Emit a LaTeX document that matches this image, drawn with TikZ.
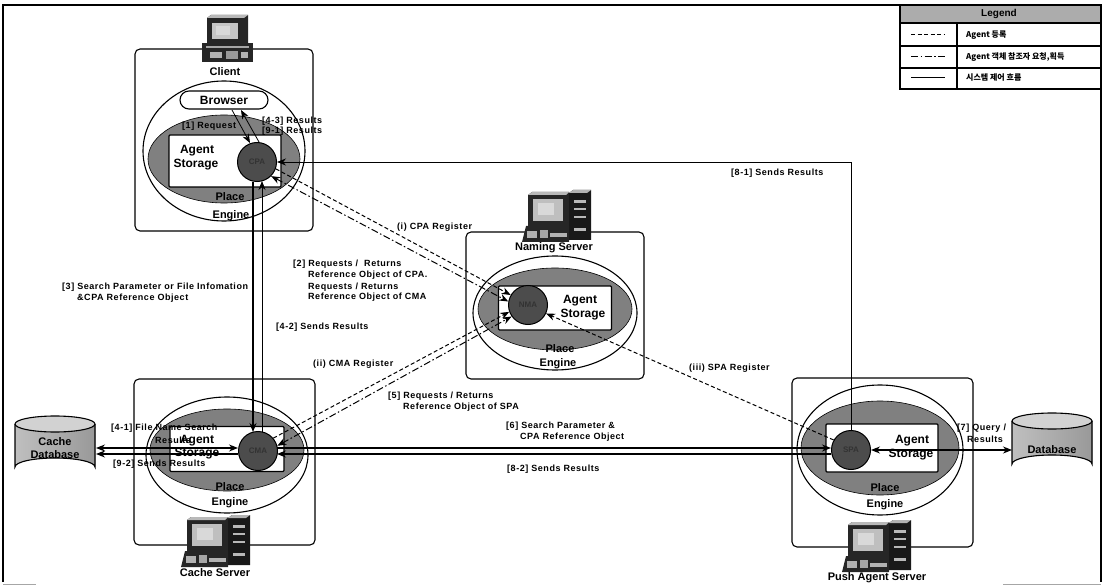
\documentclass[tikz,border=0pt]{standalone}
\usepackage{fontspec}
\setmainfont{Liberation Sans}
\newfontfamily\lblfont{Liberation Sans}[LetterSpace=6]
\newfontfamily\krfont{Noto Sans CJK KR}
\usetikzlibrary{arrows.meta}
\definecolor{placegray}{gray}{0.5}
\definecolor{agentgray}{gray}{0.3}
\tikzset{
  x=1pt,y=-1pt,
  box/.style={draw,line width=1.1pt,rounded corners=5pt,fill=white},
  engine/.style={draw,line width=1.1pt,fill=white},
  placeell/.style={draw,line width=0.6pt,fill=placegray},
  storagebox/.style={draw,line width=1.2pt,fill=white},
  agentnode/.style={circle,draw,line width=1pt,fill=agentgray,minimum size=39pt,inner sep=0pt,font=\bfseries\fontsize{8}{9}\selectfont,text=black!80},
  big/.style={font=\bfseries\fontsize{12}{14}\selectfont,inner sep=0pt},
  mid/.style={font=\bfseries\fontsize{11}{13}\selectfont,inner sep=0pt},
  lbl/.style={font=\lblfont\bfseries\fontsize{9}{10}\selectfont,inner sep=0pt,anchor=west},
  ctl/.style={line width=1.2pt},
  thinctl/.style={line width=0.8pt},
  arr/.style={-{Stealth[length=9pt,width=7pt]}},
  arrb/.style={{Stealth[length=9pt,width=7pt]}-{Stealth[length=9pt,width=7pt]}},
  reg/.style={line width=1pt,dash pattern=on 4pt off 2.5pt},
  ref/.style={line width=1pt,dash pattern=on 7pt off 2.5pt on 1.5pt off 2.5pt},
  deskpc/.pic={
    \fill[black!85] (5,0) -- (9,-3) -- (46,-3) -- (46,25) -- (5,25) -- cycle;
    \fill[gray!55] (9,-3) -- (46,-3) -- (42,0) -- (5,0) -- cycle;
    \fill[gray!45] (10,5) rectangle (36,21);
    \fill[white!85!black] (14,8) rectangle (28,17);
    \fill[black!85] (0,25) rectangle (51,44);
    \fill[gray!70] (4,28) rectangle (47,30);
    \fill[gray!60] (8,34) rectangle (20,40);
    \fill[gray!80] (24,33) rectangle (36,41);
    \fill[gray!60] (39,34) rectangle (46,40);
  },
  towerpc/.pic={
    \fill[black!85] (6,5) -- (10,2) -- (47,2) -- (47,36) -- (6,36) -- cycle;
    \fill[gray!55] (10,2) -- (47,2) -- (44,5) -- (6,5) -- cycle;
    \fill[gray!50] (11,9) rectangle (41,31);
    \fill[white!85!black] (16,13) rectangle (32,25);
    \fill[black!90] (47,3) -- (51,0) -- (69,0) -- (69,50) -- (47,50) -- cycle;
    \fill[gray!60] (51,0) -- (69,0) -- (65,3) -- (47,3) -- cycle;
    \fill[gray!55] (52,10) rectangle (64,13);
    \fill[gray!55] (52,18) rectangle (64,20);
    \fill[gray!55] (52,26) rectangle (64,28);
    \fill[gray!55] (52,38) rectangle (64,41);
    \fill[black!85] (4,36) -- (47,36) -- (47,52) -- (0,52) -- cycle;
    \fill[gray!60] (5,41) rectangle (15,48);
    \fill[gray!70] (18,40) rectangle (26,48);
    \fill[gray!60] (28,43) rectangle (45,47);
  },
  dbcyl/.pic={
    \fill[left color=gray!50,right color=gray!80] (0,8) -- (0,51) arc[start angle=180,end angle=360,x radius=40,y radius=9] -- (80,8) -- cycle;
    \fill[gray!35] (40,8) ellipse[x radius=40,y radius=8];
    \draw[line width=1.1pt] (0,8) -- (0,51) arc[start angle=180,end angle=360,x radius=40,y radius=9] -- (80,8);
    \draw[line width=1.1pt] (40,8) ellipse[x radius=40,y radius=8];
  }
}
\begin{document}
\begin{tikzpicture}
\useasboundingbox (0,0) rectangle (1103,588);
% outer frame
\draw[line width=1.1pt] (3,582) -- (3,5) -- (1101,5) -- (1101,582);
\draw[gray!70,line width=0.5pt] (3,584) -- (36,584);
\draw[gray!70,line width=0.5pt] (1003,584) -- (1101,584);
% legend
\path[fill=gray!65] (900,5) rectangle (1101,23);
\draw[line width=1.2pt] (900,5) rectangle (1101,89);
\draw[line width=1.1pt] (900,23) -- (1101,23) (900,46) -- (1101,46) (900,68) -- (1101,68) (957,23) -- (957,89);
\node[font=\bfseries\fontsize{10}{12}\selectfont,inner sep=0pt] (legendtitle) at (999,14) {Legend};
\coordinate (la1) at (911,35); \coordinate (lb1) at (945,35);
\coordinate (la2) at (911,57); \coordinate (lb2) at (945,57);
\coordinate (la3) at (911,78); \coordinate (lb3) at (945,78);
\draw[reg] (la1) -- (lb1);
\draw[ref] (la2) -- (lb2);
\draw[line width=1pt] (la3) -- (lb3);
\node[font=\krfont\bfseries\fontsize{8}{9}\selectfont,inner sep=0pt,anchor=west] (leg1) at (966,35) {Agent 등록};
\node[font=\krfont\bfseries\fontsize{8}{9}\selectfont,inner sep=0pt,anchor=west] (leg2) at (966,57) {Agent 객체 참조자 요청,획득};
\node[font=\krfont\bfseries\fontsize{8}{9}\selectfont,inner sep=0pt,anchor=west] (leg3) at (966,78) {시스템 제어 흐름};
% Client
\draw[box] (135,49) rectangle (313,231);
\pic at (202,18) {deskpc};
\node[mid] (clientlbl) at (225,72) {Client};
\draw[engine] (224,151) ellipse[x radius=81,y radius=70];
\draw[placeell] (224,159) ellipse[x radius=76,y radius=44];
\node[storagebox,rounded corners=1pt,minimum width=112pt,minimum height=52pt,inner sep=0pt] (cpastore) at (225,161) {};
\node[draw,line width=1.1pt,fill=white,rounded corners=9pt,minimum width=88pt,minimum height=18pt,inner sep=0pt,big] (browser) at (224,100) {Browser};
\node[agentnode] (cpa) at (257,162) {CPA};
\node[big] (a1) at (197,151) {Agent};
\node[big] (s1) at (196,165) {Storage};
\node[mid] (p1) at (230,197) {Place};
\node[mid] (e1) at (231,216) {Engine};
% Naming
\draw[box] (466,232) rectangle (644,379);
\pic at (522,190) {towerpc};
\node[mid] (namlbl) at (554,248) {Naming Server};
\draw[engine] (555,313) ellipse[x radius=82,y radius=57];
\draw[placeell] (555,309) ellipse[x radius=77,y radius=41];
\node[storagebox,rounded corners=1pt,minimum width=113pt,minimum height=44pt,inner sep=0pt] (nmastore) at (555,308) {};
\node[agentnode] (nma) at (528,305) {NMA};
\node[big] (a2) at (580,301) {Agent};
\node[big] (s2) at (583,315) {Storage};
\node[mid] (p2) at (560,349) {Place};
\node[mid] (e2) at (558,364) {Engine};
% Cache
\draw[box] (134,379) rectangle (315,545);
\draw[engine] (227,455) ellipse[x radius=81,y radius=58];
\draw[placeell] (227,450) ellipse[x radius=77,y radius=41];
\node[storagebox,rounded corners=1pt,minimum width=114pt,minimum height=45pt,inner sep=0pt] (cmastore) at (227,449) {};
\node[agentnode] (cma) at (258,451) {CMA};
\node[big] (a3) at (197,441) {Agent};
\node[big] (s3) at (197,454) {Storage};
\node[mid] (p3) at (230,487) {Place};
\node[mid] (e3) at (230,503) {Engine};
\pic at (181,515) {towerpc};
\node[mid] (cachelbl) at (215,573) {Cache Server};
% Push
\draw[box] (792,378) rectangle (973,547);
\draw[engine] (880,450) ellipse[x radius=83,y radius=65];
\draw[placeell] (880,448) ellipse[x radius=79,y radius=47];
\node[storagebox,rounded corners=1pt,minimum width=112pt,minimum height=48pt,inner sep=0pt] (spastore) at (882,448) {};
\node[agentnode] (spa) at (851,450) {SPA};
\node[big] (a4) at (912,441) {Agent};
\node[big] (s4) at (911,455) {Storage};
\node[mid] (p4) at (885,488) {Place};
\node[mid] (e4) at (885,505) {Engine};
\pic at (842,520) {towerpc};
\node[mid] (pushlbl) at (877,578) {Push Agent Server};
% Databases
\pic at (15,416) {dbcyl};
\node[big,align=center,font=\bfseries\fontsize{11}{13}\selectfont] (cachedb) at (55,448) {Cache\\Database};
\pic at (1012,413) {dbcyl};
\node[big,font=\bfseries\fontsize{11}{13}\selectfont] (db) at (1052,450) {Database};
\coordinate (dbcU) at (96,448); \coordinate (dbcL) at (96,454);
\coordinate (cmaU) at (cma.west|-dbcU); \coordinate (cmaL) at (cma.west|-dbcL);
\coordinate (cmaRU) at (277,448); \coordinate (cmaRL) at (277,454);
\coordinate (spaU) at (831,448); \coordinate (spaL) at (831,454);
\coordinate (dbR) at (1012,450);
% control flows
\draw[ctl,arrb] (dbcU) -- (cmaU);
\draw[ctl,arr] (cmaL) -- (dbcL);
\draw[ctl,arr] (cmaRU) -- (spaU);
\draw[ctl,arr] (spaL) -- (cmaRL);
\draw[ctl,arrb] (spa.east) -- (dbR);
\coordinate (cpaA) at (253,182); \coordinate (cmaA) at (253,432);
\coordinate (cpaB) at (262,181); \coordinate (cmaB) at (262,432);
\draw[ctl,arr] (cpaA) -- (cmaA);
\draw[thinctl,arr] (cmaB) -- (cpaB);
\draw[thinctl,arr] (spa.north) |- (cpa.east);
\coordinate (brA) at (232,110); \coordinate (cpaC) at (250,143);
\coordinate (brB) at (241,110); \coordinate (cpaD) at (259,142);
\draw[thinctl,arr] (brA) -- (cpaC);
\draw[thinctl,arr] (cpaD) -- (brB);
% registration and reference
\draw[reg,arr] (cpa.-20) -- (nma.150);
\draw[ref,arrb] (cpa.-45) -- (nma.170);
\draw[reg,arr] (cma.40) -- (nma.200);
\draw[ref,arrb] (cma.15) -- (nma.215);
\draw[reg,arr] (spa.150) -- (nma.-25);
% labels
\node[lbl] (t1) at (182,126) {[1] Request};
\node[lbl] (t2) at (262,121) {[4-3] Results};
\node[lbl] (t3) at (262,131) {[9-1] Results};
\node[lbl] (t4) at (731,173) {[8-1] Sends Results};
\node[lbl] (t5) at (397,227) {(i) CPA Register};
\node[lbl] (t6) at (293,264) {[2] Requests /\ \ Returns};
\node[lbl] (t7) at (308,275) {Reference Object of CPA.};
\node[lbl] (t8) at (308,287) {Requests / Returns};
\node[lbl] (t9) at (308,297) {Reference Object of CMA};
\node[lbl] (t10) at (62,287) {[3] Search Parameter or File Infomation};
\node[lbl] (t11) at (77,298) {\&CPA Reference Object};
\node[lbl] (t12) at (276,327) {[4-2] Sends Results};
\node[lbl] (t13) at (313,364) {(ii) CMA Register};
\node[lbl] (t14) at (388,396) {[5] Requests / Returns};
\node[lbl] (t15) at (403,407) {Reference Object of SPA};
\node[lbl] (t16) at (689,368) {(iii) SPA Register};
\node[lbl] (t17) at (506,426) {[6] Search Parameter \&};
\node[lbl] (t18) at (520,437) {CPA Reference Object};
\node[lbl] (t19) at (507,469) {[8-2] Sends Results};
\node[lbl] (t20) at (957,428) {[7] Query /};
\node[lbl] (t21) at (967,439) {Results};
\node[lbl] (t22) at (111,428) {[4-1] File Name Search};
\node[lbl] (t23) at (155,440) {Results};
\node[lbl] (t24) at (113,464) {[9-2] Sends Results};
\end{tikzpicture}
\end{document}
